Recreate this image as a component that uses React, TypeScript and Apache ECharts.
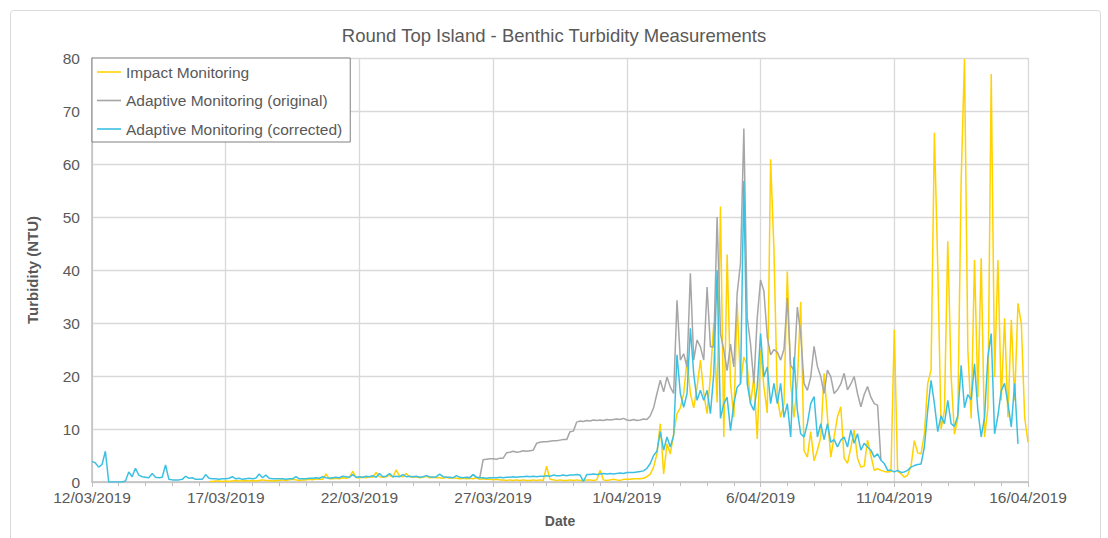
import React, { useEffect, useRef } from "react";
import * as echarts from "echarts";

// Benthic turbidity at Round Top Island, 3-hourly readings (NTU).
const TITLE = "Round Top Island - Benthic Turbidity Measurements";
const SERIES_NAMES = [
  "Impact Monitoring",
  "Adaptive Monitoring (original)",
  "Adaptive Monitoring (corrected)",
];
const AXIS_START = "2019-03-12T00:00:00Z";
const AXIS_END = "2019-04-16T00:00:00Z";
const STEP_HOURS = 3;
const Y_TICKS = [0, 10, 20, 30, 40, 50, 60, 70, 80];

const IMPACT_START = "2019-03-16T09:00:00Z";
const impactValues = [
  0.1, 0.1, 0.2, 0.2, 0.1,
  0.2, 0.1, 0.2, 0.3, 0.2, 0.2, 0.3, 0.2,
  0.3, 0.2, 0.3, 0.4, 0.3, 0.3, 0.2, 0.3,
  0.3, 0.4, 0.3, 0.4, 0.5, 0.4, 0.3, 0.4,
  0.4, 0.5, 0.4, 0.6, 0.5, 0.5, 1.5, 0.6,
  0.6, 0.7, 0.6, 0.8, 0.7, 0.9, 2.0, 0.8,
  0.8, 0.9, 0.8, 1.0, 0.9, 1.8, 1.0, 0.9,
  1.0, 1.3, 0.9, 2.3, 1.1, 1.0, 1.6, 1.0,
  0.9, 1.0, 0.8, 0.9, 1.1, 0.8, 0.9, 0.8,
  0.8, 0.7, 0.9, 0.7, 0.8, 0.7, 0.6, 0.7,
  0.6, 0.7, 0.6, 0.8, 0.5, 0.6, 0.5, 0.5,
  0.4, 0.5, 0.4, 0.4, 0.3, 0.4, 0.3, 0.4,
  0.3, 0.4, 0.3, 0.3, 0.4, 0.3, 0.4, 0.3,
  3.0, 0.5, 0.4, 0.3, 0.4, 0.3, 0.3, 0.4,
  0.3, 0.4, 0.3, 0.3, 0.4, 0.4, 0.3, 0.4,
  2.2, 0.4, 0.3, 0.4, 0.5, 0.4, 0.3, 0.5,
  0.5, 0.5, 0.6, 0.6, 0.6, 0.7, 1.0, 1.5,
  2.8, 5.3, 11.0, 1.5, 7.2, 5.3, 9.1, 12.9,
  14.0, 16.7, 23.0, 16.7, 14.0, 17.9, 23.0, 16.7,
  12.9, 20.0, 30.0, 15.0, 52.0, 8.5, 42.9, 18.6,
  12.2, 33.7, 18.6, 23.6, 22.0, 14.8, 19.8, 8.1,
  24.9, 18.0, 13.0, 60.9, 43.8, 16.0, 12.2, 14.8,
  39.7, 18.6, 12.2, 18.6, 34.0, 5.9, 4.7, 9.5,
  4.0, 6.0, 8.5, 20.5, 12.3, 4.7, 8.5, 12.3,
  14.2, 4.5, 3.5, 6.5, 9.8, 4.5, 2.8, 3.0,
  7.9, 5.0, 2.2, 2.5, 2.2, 2.0, 1.9, 2.0,
  28.7, 2.0, 1.6, 0.9, 1.3, 3.0, 7.8, 5.5,
  5.3, 9.1, 18.6, 21.1, 65.9, 40.7, 10.0, 13.5,
  45.4, 20.0, 9.0, 12.0, 56.8, 79.8, 25.0, 12.0,
  41.9, 16.0, 42.2, 8.5, 14.0, 77.0, 19.8, 41.9,
  15.4, 30.9, 12.2, 30.6, 15.4, 33.7, 29.9, 12.2,
  7.5,
];

const ORIGINAL_START = "2019-03-26T00:00:00Z";
const originalValues = [
  0.9, 0.8, 1.4, 0.9, 0.8, 4.2, 4.3, 4.4,
  4.4, 4.3, 4.5, 4.5, 5.5, 5.6, 5.8, 5.6,
  5.7, 5.9, 5.8, 5.9, 6.0, 7.3, 7.5, 7.6,
  7.6, 7.7, 7.8, 7.8, 7.9, 8.0, 8.0, 9.5,
  9.6, 11.3, 11.5, 11.4, 11.6, 11.5, 11.7, 11.6,
  11.7, 11.6, 11.8, 11.7, 11.8, 11.9, 11.8, 12.0,
  11.7, 11.6, 11.8, 11.6, 11.7, 11.9, 11.8, 12.5,
  14.0, 16.7, 19.2, 17.0, 19.8, 17.9, 16.7, 34.3,
  23.0, 24.2, 21.7, 39.4, 23.0, 26.8, 25.5, 23.0,
  36.8, 25.5, 25.5, 50.0, 28.0, 24.9, 21.0, 26.0,
  21.7, 35.6, 41.3, 66.7, 31.0, 26.0, 18.6, 31.0,
  38.1, 36.0, 27.4, 24.0, 25.0, 24.5, 23.0, 25.0,
  34.7, 22.0, 21.0, 33.0, 28.0, 18.6, 17.3, 19.8,
  25.6, 21.8, 19.9, 16.7, 21.1, 19.9, 16.7, 17.4,
  18.5, 20.5, 17.4, 18.5, 19.9, 16.7, 14.2, 16.5,
  18.0, 16.0, 14.8, 14.5, 4.1,
];

const CORRECTED_START = "2019-03-12T00:00:00Z";
const correctedValues = [
  3.9, 3.6, 2.8, 3.3, 5.8, 0, 0, 0,
  0, 0, 0.2, 1.9, 1.0, 2.6, 1.3, 1.0,
  0.9, 0.8, 1.6, 0.9, 0.8, 0.9, 3.2, 0.5,
  0.4, 0.4, 0.4, 0.5, 1.1, 0.7, 0.8, 0.5,
  0.5, 0.5, 1.4, 0.7, 0.6, 0.6, 0.5, 0.6,
  0.6, 0.7, 1.0, 0.6, 0.7, 0.5, 0.6, 0.7,
  0.6, 0.7, 1.5, 0.8, 1.3, 0.7, 0.6, 0.6,
  0.6, 0.6, 0.5, 0.6, 0.6, 1.0, 0.6, 0.6,
  0.6, 0.7, 0.7, 0.8, 0.7, 1.0, 0.8, 0.7,
  0.8, 0.9, 0.8, 1.1, 1.0, 0.9, 1.4, 0.9,
  1.0, 0.9, 1.1, 1.0, 1.2, 0.9, 1.6, 1.0,
  1.1, 1.6, 1.0, 1.1, 1.0, 1.4, 1.0, 1.1,
  1.0, 1.1, 0.9, 1.0, 1.2, 1.0, 0.9, 1.0,
  1.5, 1.0, 0.9, 0.9, 0.8, 1.2, 0.9, 0.8,
  0.9, 0.8, 1.4, 0.9, 0.8, 0.8, 0.7, 0.8,
  0.8, 0.8, 0.9, 0.8, 0.9, 0.9, 1.0, 0.9,
  1.0, 1.0, 1.1, 1.0, 1.1, 1.0, 1.1, 1.1,
  1.2, 1.1, 1.3, 1.2, 1.2, 1.3, 1.2, 1.3,
  1.3, 1.4, 1.3, 0.1, 1.4, 1.4, 1.5, 1.4,
  1.5, 1.6, 1.5, 1.6, 1.5, 1.6, 1.7, 1.6,
  1.8, 1.8, 1.8, 1.9, 2.0, 2.1, 2.6, 3.5,
  5.0, 5.8, 9.5, 6.0, 8.5, 6.6, 8.8, 24.0,
  16.7, 14.1, 16.7, 29.0, 20.4, 15.4, 17.3, 15.4,
  17.3, 12.9, 20.4, 40.0, 12.0, 14.8, 16.0, 9.7,
  14.8, 17.9, 18.6, 56.8, 18.6, 14.8, 13.5, 17.9,
  28.0, 19.8, 21.7, 14.8, 18.6, 14.8, 18.6, 12.2,
  14.8, 8.5, 23.6, 13.5, 9.1, 8.5, 11.0, 14.8,
  16.1, 8.5, 11.0, 8.0, 11.0, 7.5, 8.0, 6.6,
  7.9, 8.5, 6.6, 9.8, 7.3, 9.1, 6.0, 7.3,
  6.6, 6.0, 4.7, 5.3, 4.1, 3.5, 2.2, 2.2,
  1.9, 2.2, 1.8, 1.9, 2.2, 2.8, 3.1, 3.3,
  3.4, 6.6, 13.5, 19.2, 14.8, 9.5, 12.5, 11.0,
  15.4, 11.0, 10.5, 12.5, 22.0, 14.0, 16.5, 15.5,
  22.3, 13.5, 8.5, 12.2, 23.6, 28.0, 9.1, 12.5,
  17.3, 18.6, 14.8, 10.4, 18.6, 7.2,
];

const COLORS = ["#FFD200", "#A6A6A6", "#3CC0E2"];
const FONT = "'Liberation Sans', Arial, Helvetica, sans-serif";
const TEXT_COLOR = "#595959";

const DAY_MS = 86400000;
const axisStartMs = Date.parse(AXIS_START);
const axisDays = (Date.parse(AXIS_END) - axisStartMs) / DAY_MS;

// x is measured in days since the axis start
function toPoints(start: string, values: number[]): [number, number][] {
  const offset = (Date.parse(start) - axisStartMs) / DAY_MS;
  const step = STEP_HOURS / 24;
  return values.map((v, i) => [offset + i * step, v]);
}

function dateLabel(dayOffset: number): string {
  const d = new Date(axisStartMs + dayOffset * DAY_MS);
  const mm = String(d.getUTCMonth() + 1).padStart(2, "0");
  return `${d.getUTCDate()}/${mm}/${d.getUTCFullYear()}`;
}

export default function App() {
  const ref = useRef<HTMLDivElement>(null);

  useEffect(() => {
    if (!ref.current) return;
    const chart = echarts.init(ref.current, undefined, { renderer: "svg" });
    const seriesData = [
      toPoints(IMPACT_START, impactValues),
      toPoints(ORIGINAL_START, originalValues),
      toPoints(CORRECTED_START, correctedValues),
    ];
    chart.setOption({
      animation: false,
      backgroundColor: "#ffffff",
      textStyle: { fontFamily: FONT },
      title: {
        text: TITLE,
        left: "center",
        top: 21,
        textStyle: {
          fontFamily: FONT,
          fontSize: 18.5,
          fontWeight: "normal",
          color: TEXT_COLOR,
        },
      },
      graphic: [
        {
          type: "rect",
          shape: { x: 10.5, y: 10.5, width: 1090, height: 560, r: 3 },
          style: { fill: "none", stroke: "#d9d9d9", lineWidth: 1 },
          silent: true,
          z: -1,
        },
      ],
      legend: {
        orient: "vertical",
        left: 92,
        top: 58,
        data: SERIES_NAMES,
        icon: "rect",
        itemWidth: 24,
        itemHeight: 1.6,
        itemGap: 12.5,
        padding: [6, 8, 5, 5],
        backgroundColor: "#ffffff",
        borderColor: "#808080",
        borderWidth: 1,
        textStyle: { fontFamily: FONT, fontSize: 15.5, color: TEXT_COLOR },
      },
      grid: { left: 92, right: 80, top: 58, bottom: 56 },
      xAxis: {
        type: "value",
        min: 0,
        max: axisDays,
        interval: 5,
        name: "Date",
        nameLocation: "middle",
        nameGap: 32,
        nameTextStyle: {
          fontFamily: FONT,
          fontSize: 14,
          fontWeight: "bold",
          color: TEXT_COLOR,
        },
        axisLine: { lineStyle: { color: "#bfbfbf", width: 1.5 } },
        axisTick: { show: true, length: 5, lineStyle: { color: "#bfbfbf" } },
        minorTick: {
          show: true,
          splitNumber: 5,
          length: 4,
          lineStyle: { color: "#bfbfbf" },
        },
        axisLabel: {
          formatter: (v: number) => dateLabel(v),
          fontFamily: FONT,
          fontSize: 15.5,
          color: TEXT_COLOR,
          margin: 7,
        },
        splitLine: { show: true, lineStyle: { color: "#d9d9d9", width: 1.3 } },
      },
      yAxis: {
        type: "value",
        min: Y_TICKS[0],
        max: Y_TICKS[Y_TICKS.length - 1],
        interval: Y_TICKS[1] - Y_TICKS[0],
        name: "Turbidity (NTU)",
        nameLocation: "middle",
        nameGap: 52,
        nameRotate: 90,
        nameTextStyle: {
          fontFamily: FONT,
          fontSize: 15,
          fontWeight: "bold",
          color: TEXT_COLOR,
        },
        axisLine: { show: true, lineStyle: { color: "#bfbfbf", width: 1.5 } },
        axisTick: { show: false },
        axisLabel: {
          fontFamily: FONT,
          fontSize: 15.5,
          color: TEXT_COLOR,
          margin: 12,
        },
        splitLine: { show: true, lineStyle: { color: "#d9d9d9", width: 1.3 } },
      },
      series: SERIES_NAMES.map((name, i) => ({
        name,
        type: "line",
        data: seriesData[i],
        symbol: "none",
        color: COLORS[i],
        lineStyle: { color: COLORS[i], width: 1.5 },
        z: 2 + i,
      })),
    });
    return () => chart.dispose();
  }, []);

  return (
    <div
      ref={ref}
      style={{ position: "fixed", left: 0, top: 0, width: 1108, height: 538 }}
    />
  );
}
